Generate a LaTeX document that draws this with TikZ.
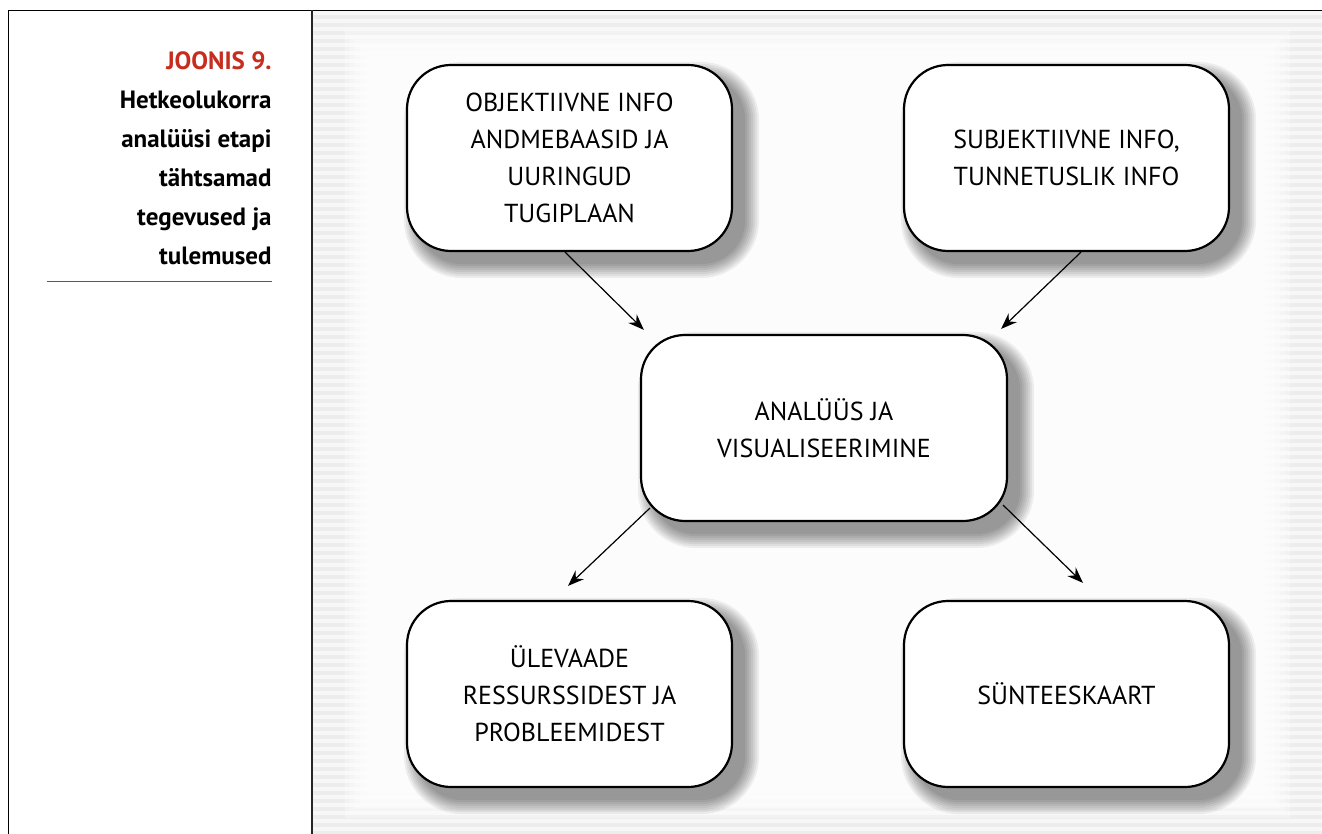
\documentclass[tikz,border=0pt]{standalone}
\usepackage{fontspec}
\setmainfont{PT Sans}
\usetikzlibrary{calc,arrows.meta}

\definecolor{joonisred}{HTML}{C62D1F}
\pgfdeclarelayer{paper}
\pgfdeclarelayer{shade}
\pgfsetlayers{paper,shade,main}

\begin{document}
\begin{tikzpicture}[x=0.5pt,y=-0.5pt,
    box/.style={draw, line width=1.1pt, fill=white, rounded corners=22pt,
      minimum width=162.5pt, minimum height=93pt, align=center,
      font=\fontsize{13}{18.5}\selectfont},
    arr/.style={line width=0.6pt, -{Stealth[length=8pt,width=6pt]}}]
  \useasboundingbox (0,0) rectangle (1322,834);

  %% Boxes of the scheme
  \node[box] (obj)  at (569.5,158) {OBJEKTIIVNE INFO\\ANDMEBAASID JA\\UURINGUD\\TUGIPLAAN};
  \node[box] (subj) at (1066.5,158) {SUBJEKTIIVNE INFO,\\TUNNETUSLIK INFO};
  \node[box, minimum width=183pt] (ana) at (824,428) {ANAL\"U\"US JA\\VISUALISEERIMINE};
  \node[box] (ule)  at (569.5,694) {\"ULEVAADE\\RESSURSSIDEST JA\\PROBLEEMIDEST};
  \node[box] (synt) at (1066.5,694) {S\"UNTEESKAART};

  %% Arrows between the boxes
  \draw[arr] ([xshift=-2.25pt]obj.south) -- ([shift={(2pt,2pt)}]ana.north west);
  \draw[arr] ([xshift=7.25pt]subj.south) -- ([shift={(-3.5pt,2.5pt)}]ana.north east);
  \draw[arr] ([shift={(5pt,7pt)}]ana.south west) -- ([shift={(-0.75pt,7pt)}]ule.north);
  \draw[arr] ([shift={(-2.5pt,8.5pt)}]ana.south east) -- ([shift={(8.25pt,8.5pt)}]synt.north);

  %% Caption on the left
  \node[anchor=north east, inner sep=0pt, align=right,
    font=\bfseries\fontsize{12.5}{19.5}\selectfont] (cap) at (272,51.5)
    {\textcolor{joonisred}{JOONIS 9.}\\Hetkeolukorra\\anal\"u\"usi etapi\\t\"ahtsamad\\tegevused ja\\tulemused};
  \coordinate (capL) at (47,282);
  \coordinate (capR) at (cap.east |- capL);
  \draw[gray!70!black, line width=0.5pt] (capL) -- (capR);

  %% Striped paper with a white middle
  \begin{pgfonlayer}{paper}
    \fill[black!7] (313,11) rectangle (1322,834);
    \foreach \y in {11,19,...,834}
      \fill[black!3] (313,\y) rectangle (1322,\y+4);
    \foreach \k in {0,...,7}
      \fill[white, opacity=0.3] (345+\k*5,30+\k*5) rectangle (1290-\k*5,818-\k*5);
  \end{pgfonlayer}

  %% Soft shadows behind the boxes
  \begin{pgfonlayer}{shade}
    \foreach \n in {obj,subj,ana,ule,synt}
      \foreach \r in {0,...,7}
      {
        \pgfmathsetmacro\rc{22+\r}
        \pgfmathsetmacro\lo{6-\r}
        \pgfmathsetmacro\hi{6+\r}
        \fill[black, opacity=0.06, rounded corners=\rc pt]
          ([shift={(\lo pt,-\hi pt)}]\n.south west) rectangle ([shift={(\hi pt,-\lo pt)}]\n.north east);
      }
  \end{pgfonlayer}

  %% Frame
  \draw[line width=0.75pt] (8.5,834) -- (8.5,10.5) -- (1322,10.5);
  \draw[line width=1.2pt, black!85] (312,10.5) -- (312,834);
\end{tikzpicture}
\end{document}
